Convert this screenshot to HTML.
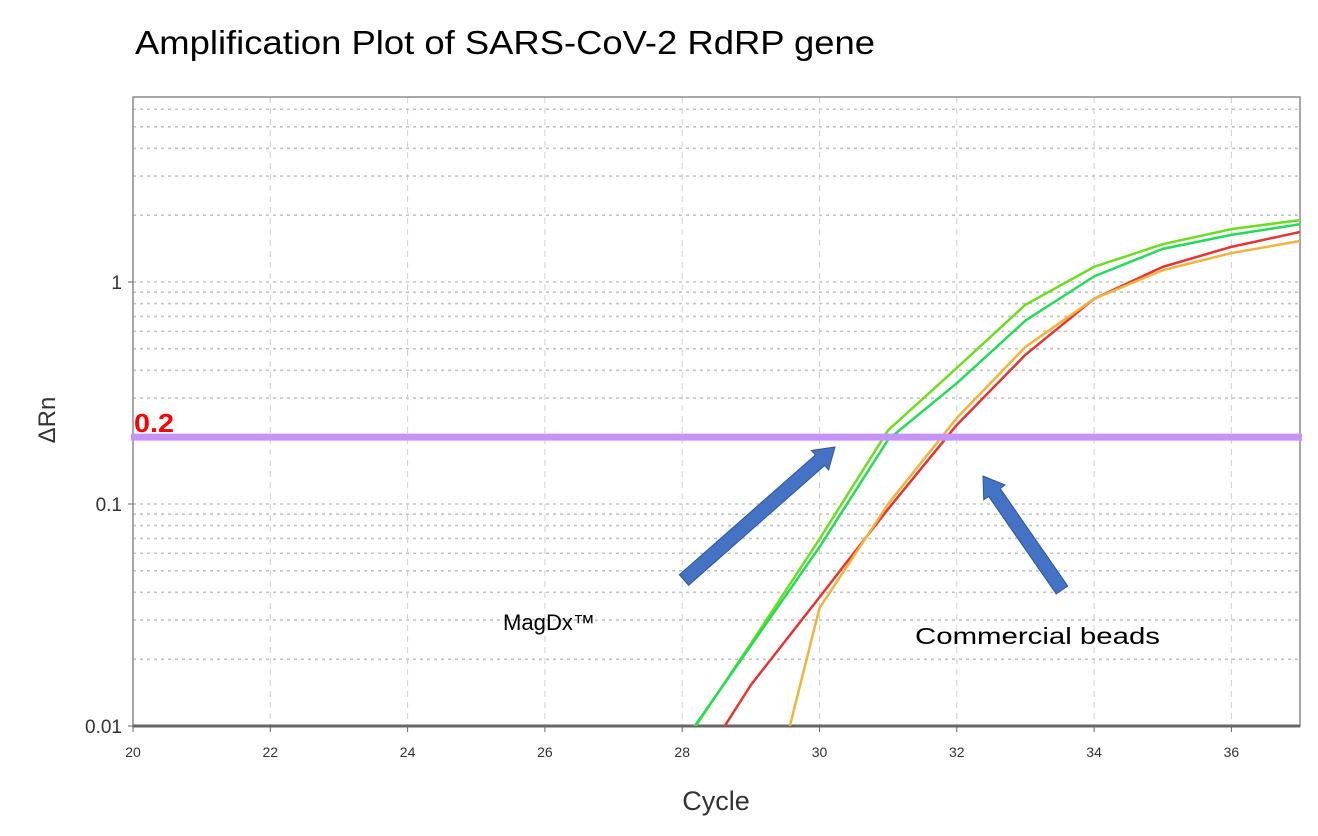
<!DOCTYPE html>
<html><head><meta charset="utf-8"><style>
html,body{margin:0;background:#fff;width:1318px;height:836px;overflow:hidden}
svg{display:block;overflow:hidden}
</style></head><body>
<svg id="chart" width="1318" height="836" font-family="'Liberation Sans', sans-serif">
<text x="135" y="54" font-size="33" fill="#000" textLength="740" lengthAdjust="spacingAndGlyphs">Amplification Plot of SARS-CoV-2 RdRP gene</text>
<defs><clipPath id="pc"><rect x="133" y="97" width="1167" height="629"/></clipPath></defs>
<g id="grid"></g>
<rect x="133" y="97" width="1167" height="629" fill="none" stroke="#8a8a8a" stroke-width="1.5"/>
<line x1="133" y1="726" x2="1300" y2="726" stroke="#666" stroke-width="3"/>
<g id="ticks"></g>
<g id="series" clip-path="url(#pc)"></g>
<text x="716" y="810" font-size="27" fill="#333" text-anchor="middle">Cycle</text>
<text transform="translate(55,420) rotate(-90)" font-size="24" fill="#333" text-anchor="middle">ΔRn</text>
<text x="503" y="630" font-size="22" fill="#000" textLength="92" lengthAdjust="spacingAndGlyphs">MagDx™</text>
<text x="915" y="644" font-size="23" fill="#000" textLength="245" lengthAdjust="spacingAndGlyphs">Commercial beads</text>
<g id="arrows"></g>
</svg>
<script>
const cycles=[28,29,30,31,32,33,34,35,36,37];
const seriesNames=['magdx-1','magdx-2','commercial-1','commercial-2'];
const magdx1=[0.0081,0.0235,0.0695,0.215,0.41,0.79,1.17,1.48,1.73,1.9];
const magdx2=[0.0083,0.023,0.064,0.195,0.35,0.67,1.06,1.41,1.63,1.82];
const commercial1=[0.005,0.0153,0.038,0.095,0.227,0.47,0.84,1.17,1.44,1.68];
const commercial2=[0.0005,0.002,0.034,0.1,0.244,0.51,0.84,1.13,1.35,1.53];
const xTicks=[20,22,24,26,28,30,32,34,36];
const yTicks=[0.01,0.1,1];
const yTickLabels=['0.01','0.1','1'];
const threshold=0.2;
const NS='http://www.w3.org/2000/svg';
const X=c=>133+(c-20)*68.65;
const Y=v=>282-Math.log10(v)*222;
function el(t,a,p){const e=document.createElementNS(NS,t);for(const k in a)e.setAttribute(k,a[k]);p.appendChild(e);return e;}
const grid=document.getElementById('grid'),ticks=document.getElementById('ticks');
for(const d of [0.01,0.1,1]){for(let m=1;m<=9;m++){const v=d*m;const y=Y(v);if(y<97||y>726)continue;
 const l=el('line',{x1:133,x2:1300,y1:y,y2:y,stroke:'#c4c4c4','stroke-width':1.6,'stroke-dasharray':'3,4'},grid);
 
 }}
xTicks.forEach(c=>{const x=X(c);
 const l=el('line',{x1:x,x2:x,y1:97,y2:726,stroke:'#d0d0d0','stroke-width':1,'stroke-dasharray':'6,5'},grid);
 
 
 const t=el('text',{x:x,y:757,'font-size':14,fill:'#333','text-anchor':'middle'},ticks);t.textContent=c;
 
 
 el('line',{x1:x,x2:x,y1:726,y2:732,stroke:'#666'},ticks);});
yTicks.forEach((v,i)=>{const y=Y(v);
 const t=el('text',{x:122,y:y+7,'font-size':19,fill:'#333','text-anchor':'end'},ticks);t.textContent=yTickLabels[i];
 
 
 el('line',{x1:128,x2:133,y1:y,y2:y,stroke:'#666'},ticks);});
const th=el('line',{x1:131,x2:1302,y1:Y(threshold),y2:Y(threshold),stroke:'#c693fa','stroke-width':7},document.getElementById('chart'));


const tt=el('text',{x:134,y:Y(threshold)-5,'font-size':26,'font-weight':'bold',fill:'#ff0000',textLength:40,lengthAdjust:'spacingAndGlyphs'},document.getElementById('chart'));
tt.textContent='0.2';


const colors=['#6edc20','#22dc58','#e83232','#f0b43c'];
const series=document.getElementById('series');
[magdx1,magdx2,commercial1,commercial2].forEach((vals,i)=>{
 const p=el('polyline',{points:vals.map((v,j)=>X(cycles[j])+','+Y(v)).join(' '),fill:'none',stroke:colors[i],'stroke-width':2.5,'stroke-linejoin':'round'},series);
 
 });
const arrows=document.getElementById('arrows');
function arrow(x1,y1,x2,y2,name){const a=Math.atan2(y2-y1,x2-x1),L=Math.hypot(x2-x1,y2-y1),w=7,hw=13,hl=20;
 const pts=[[0,-w],[L-hl,-w],[L-hl,-hw],[L,0],[L-hl,hw],[L-hl,w],[0,w]].map(([u,v])=>[x1+u*Math.cos(a)-v*Math.sin(a),y1+u*Math.sin(a)+v*Math.cos(a)]);
 const p=el('polygon',{points:pts.map(q=>q.join(',')).join(' '),fill:'#4472c4',stroke:'#2f55a0','stroke-width':1},arrows);
 
 }
arrow(684,580,835,447,'magdx-arrow');
arrow(1062,590,983,476,'commercial-beads-arrow');
</script>
</body></html>
